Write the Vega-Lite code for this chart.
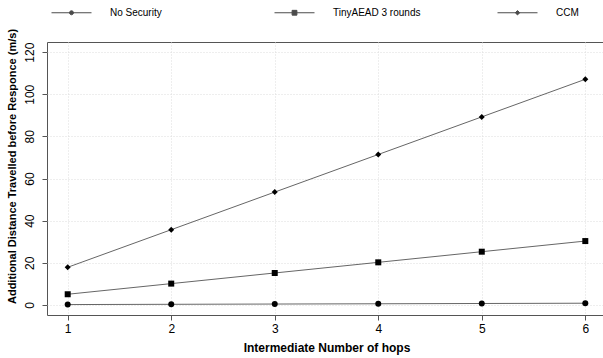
{
  "$schema": "https://vega.github.io/schema/vega-lite/v6.json",
  "width": 559,
  "height": 273,
  "autosize": {"type": "none"},
  "padding": {"left": 47, "top": 42, "right": 0, "bottom": 43},
  "background": "white",
  "config": {
    "font": "Liberation Sans",
    "view": {"stroke": "#555", "strokeWidth": 1}
  },
  "data": {
    "values": [
      {"hops": 1, "series": "No Security", "dist": 0.15},
      {"hops": 2, "series": "No Security", "dist": 0.28},
      {"hops": 3, "series": "No Security", "dist": 0.4},
      {"hops": 4, "series": "No Security", "dist": 0.53},
      {"hops": 5, "series": "No Security", "dist": 0.66},
      {"hops": 6, "series": "No Security", "dist": 0.8},
      {"hops": 1, "series": "TinyAEAD 3 rounds", "dist": 5.05},
      {"hops": 2, "series": "TinyAEAD 3 rounds", "dist": 10.1},
      {"hops": 3, "series": "TinyAEAD 3 rounds", "dist": 15.15},
      {"hops": 4, "series": "TinyAEAD 3 rounds", "dist": 20.2},
      {"hops": 5, "series": "TinyAEAD 3 rounds", "dist": 25.25},
      {"hops": 6, "series": "TinyAEAD 3 rounds", "dist": 30.3},
      {"hops": 1, "series": "CCM", "dist": 17.85},
      {"hops": 2, "series": "CCM", "dist": 35.7},
      {"hops": 3, "series": "CCM", "dist": 53.55},
      {"hops": 4, "series": "CCM", "dist": 71.4},
      {"hops": 5, "series": "CCM", "dist": 89.25},
      {"hops": 6, "series": "CCM", "dist": 107.1}
    ]
  },
  "encoding": {
    "x": {
      "field": "hops", "type": "quantitative",
      "scale": {"domain": [0.8, 6.2], "nice": false, "zero": false},
      "axis": {
        "values": [1, 2, 3, 4, 5, 6], "format": "d",
        "title": "Intermediate Number of hops",
        "titleFont": "Liberation Sans", "titleFontSize": 12, "titleFontWeight": "bold", "titleColor": "black",
        "titlePadding": 8,
        "labelFontSize": 12, "labelColor": "black", "labelPadding": 3,
        "domain": false, "tickColor": "#555", "tickSize": 5,
        "grid": true, "gridColor": "#dcdcdc", "gridDash": [1, 2]
      }
    },
    "y": {
      "field": "dist", "type": "quantitative",
      "scale": {"domain": [-4.8, 124.8], "nice": false, "zero": false},
      "axis": {
        "values": [0, 20, 40, 60, 80, 100, 120],
        "title": "Additional Distance Travelled before Responce (m/s)",
        "titleFont": "Liberation Sans", "titleFontSize": 11, "titleFontWeight": "bold", "titleColor": "black",
        "titlePadding": 6,
        "titleY": 124, "titleAlign": "center",
        "labelFontSize": 12, "labelColor": "black", "labelAngle": -90, "labelAlign": "center", "labelBaseline": "bottom", "labelPadding": 6,
        "domain": false, "tickColor": "#555", "tickSize": 5,
        "grid": true, "gridColor": "#dcdcdc", "gridDash": [1, 2]
      }
    }
  },
  "layer": [
    {
      "mark": {"type": "line", "color": "#666", "strokeWidth": 1},
      "encoding": {"detail": {"field": "series", "type": "nominal"}}
    },
    {
      "mark": {"type": "point", "filled": true, "color": "black", "opacity": 1, "size": 36},
      "encoding": {
        "shape": {
          "field": "series", "type": "nominal",
          "scale": {"domain": ["No Security", "TinyAEAD 3 rounds", "CCM"], "range": ["circle", "square", "diamond"]},
          "legend": null
        }
      }
    },
    {
      "mark": {"type": "point", "filled": false, "fill": "black", "stroke": "black", "strokeWidth": 1, "size": 0},
      "encoding": {
        "shape": {
          "field": "series", "type": "nominal",
          "scale": {
            "domain": ["No Security", "TinyAEAD 3 rounds", "CCM"],
            "range": [
              "M-1,0L1,0M0.1,0A0.1,0.1,0,1,1,-0.1,0A0.1,0.1,0,1,1,0.1,0Z",
              "M-1,0L1,0M-0.12,-0.12L0.12,-0.12L0.12,0.12L-0.12,0.12Z",
              "M-1,0L1,0M0,-0.11L0.11,0L0,0.11L-0.11,0Z"
            ]
          },
          "legend": {
            "title": null,
            "orient": "none",
            "legendX": 4,
            "legendY": -50,
            "direction": "horizontal",
            "columns": 3,
            "gridAlign": "all",
            "columnPadding": 74,
            "symbolSize": 1600,
            "symbolStrokeWidth": 1,
            "labelFontSize": 10,
            "labelColor": "black",
            "labelOffset": 18,
            "labelLimit": 200
          }
        }
      }
    }
  ],
  "resolve": {"scale": {"shape": "independent"}, "legend": {"shape": "independent"}}
}
